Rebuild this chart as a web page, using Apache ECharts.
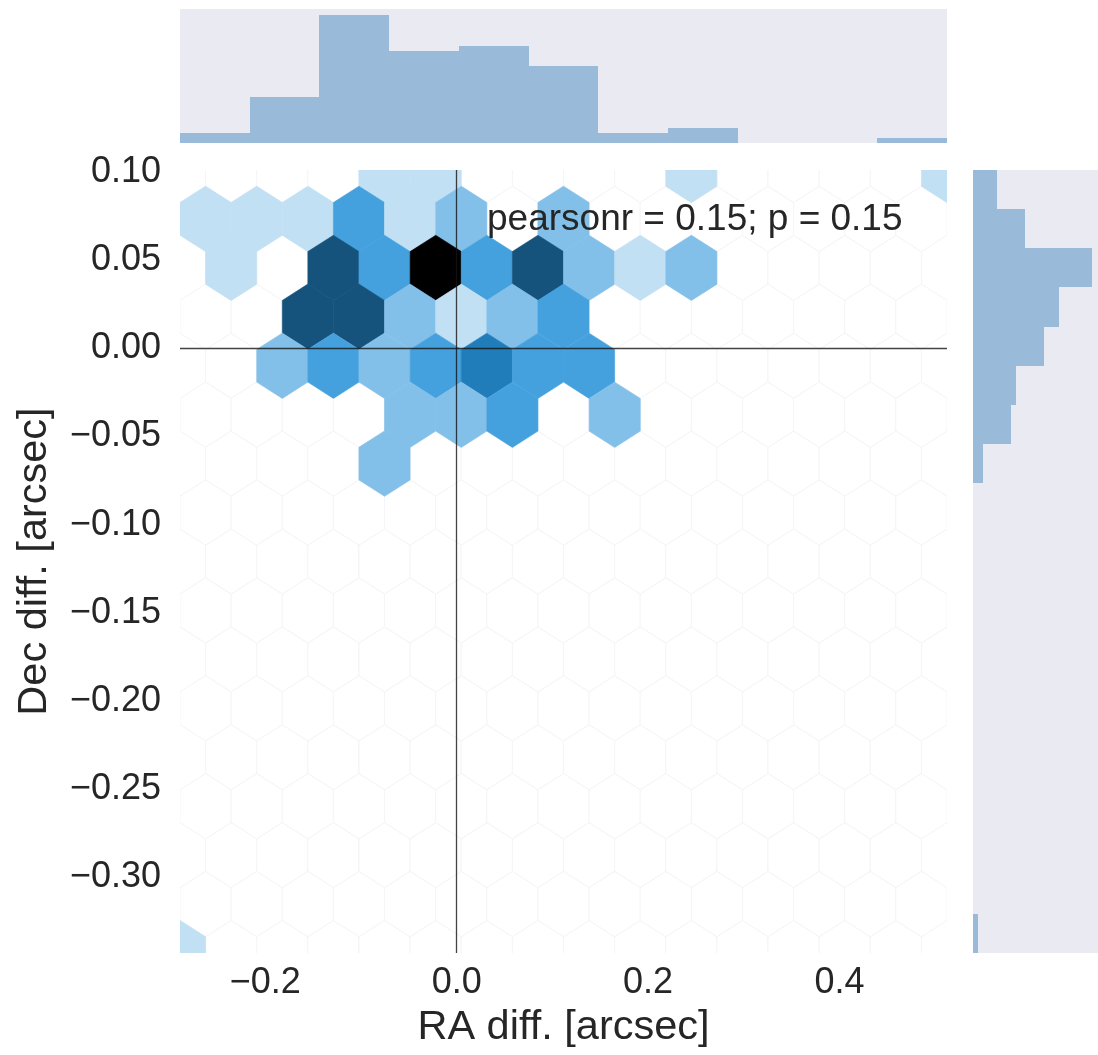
<!DOCTYPE html>
<html>
<head>
<meta charset="utf-8">
<script src="https://cdn.jsdelivr.net/npm/echarts@6/dist/echarts.min.js"></script>
<style>
  html, body { margin: 0; padding: 0; background: #ffffff; }
  #chart { width: 1098px; height: 1055px; }
</style>
</head>
<body>
<div id="chart"></div>
<script>
// Hexbin cells: bin centre (arcsec) and number of sources in the bin
const hexRA = [
  -0.0754, -0.0219, 0.2452, 0.5123,
  -0.2624, -0.2090, -0.1555, -0.1021, -0.0487, 0.0048, 0.1116,
  -0.2357, -0.1288, -0.0754, -0.0219, 0.0315, 0.0849, 0.1383, 0.1918, 0.2452,
  -0.1555, -0.1021, -0.0487, 0.0048, 0.0582, 0.1116,
  -0.1822, -0.1288, -0.0754, -0.0219, 0.0315, 0.0849, 0.1383,
  -0.0487, 0.0048, 0.0582, 0.1651,
  -0.0754,
  -0.2891
];
const hexDec = [
  0.1011, 0.1011, 0.1011, 0.1011,
  0.0734, 0.0734, 0.0734, 0.0734, 0.0734, 0.0734, 0.0734,
  0.0456, 0.0456, 0.0456, 0.0456, 0.0456, 0.0456, 0.0456, 0.0456, 0.0456,
  0.0179, 0.0179, 0.0179, 0.0179, 0.0179, 0.0179,
  -0.0099, -0.0099, -0.0099, -0.0099, -0.0099, -0.0099, -0.0099,
  -0.0377, -0.0377, -0.0377, -0.0377,
  -0.0654,
  -0.3429
];
const hexCount = [
  1, 1, 1, 1,
  1, 1, 1, 3, 1, 2, 2,
  1, 5, 3, 7, 3, 5, 2, 1, 2,
  5, 5, 2, 1, 2, 3,
  2, 3, 2, 3, 4, 3, 3,
  2, 2, 3, 2,
  2,
  1
];

// Marginal histograms
const raBinEdges = [-0.2891, -0.2162, -0.1434, -0.0705, 0.0023, 0.0752, 0.1480, 0.2209, 0.2938, 0.3666, 0.4395, 0.5123];
const raCounts = [2, 9, 25, 18, 19, 15, 2, 3, 0, 0, 1];
const decBinEdges = [-0.3429, -0.3207, -0.2985, -0.2763, -0.2541, -0.2319, -0.2097, -0.1875, -0.1653, -0.1431, -0.1209,
  -0.0987, -0.0765, -0.0543, -0.0321, -0.0099, 0.0123, 0.0345, 0.0567, 0.0789, 0.1011];
const decCounts = [1, 0, 0, 0, 0, 0, 0, 0, 0, 0, 0, 0, 2, 8, 9, 15, 18, 25, 11, 5];

// Axes
const raRange = [-0.2891, 0.5123];
const decRange = [-0.3429, 0.1011];
const raTicks = [-0.2, 0.0, 0.2, 0.4];
const decTicks = [0.10, 0.05, 0.00, -0.05, -0.10, -0.15, -0.20, -0.25, -0.30];
const refRA = 0;
const refDec = 0;
const gridSize = 15;
const statText = 'pearsonr = 0.15; p = 0.15';

const FONT = '"Liberation Sans", Arial, Helvetica, sans-serif';
const TEXT = '#262626';

// hexagon lattice spacing in data units (matplotlib-style hexbin grid)
const nx = gridSize;
const ny = Math.floor(gridSize / Math.sqrt(3));
const sx = (raRange[1] - raRange[0]) / nx;
const sy = (decRange[1] - decRange[0]) / ny;
const maxCount = Math.max(...hexCount);

function hexPoints(api, x, y) {
  const c = api.coord([x, y]);
  const s = api.size([sx, sy]);
  const w = s[0] / 2, h1 = s[1] / 6, h2 = s[1] / 3;
  return [
    [c[0] + w, c[1] - h1], [c[0] + w, c[1] + h1], [c[0], c[1] + h2],
    [c[0] - w, c[1] + h1], [c[0] - w, c[1] - h1], [c[0], c[1] - h2]
  ];
}

function hexColor(n) {
  const l = (1 - n / maxCount) * 100;
  return 'hsl(204, 70%, ' + l.toFixed(1) + '%)';
}

const minusFmt = (digits) => (v) => (v < -1e-9 ? '\u2212' : '') + Math.abs(v).toFixed(digits);

const hexData = hexRA.map((x, i) => [x, hexDec[i], hexCount[i]]);
const raHist = raCounts.map((c, i) => [raBinEdges[i], raBinEdges[i + 1], c]);
const decHist = decCounts.map((c, i) => [decBinEdges[i], decBinEdges[i + 1], c]);
const margMax = Math.max(...raCounts, ...decCounts) * 1.05;

const histColor = '#99bbd9';

// bar rectangle snapped to whole pixels so neighbouring bins join without seams
function snappedRect(p0, p1) {
  const x0 = Math.round(Math.min(p0[0], p1[0])), x1 = Math.round(Math.max(p0[0], p1[0]));
  const y0 = Math.round(Math.min(p0[1], p1[1])), y1 = Math.round(Math.max(p0[1], p1[1]));
  return { x: x0, y: y0, width: x1 - x0, height: y1 - y0 };
}

const chart = echarts.init(document.getElementById('chart'), null, { renderer: 'canvas' });

chart.setOption({
  animation: false,
  backgroundColor: '#ffffff',
  grid: [
    { left: 180, top: 170, width: 767, height: 783, show: false },
    { left: 180, top: 9, width: 767, height: 134, show: true, backgroundColor: '#eaeaf2', borderWidth: 0 },
    { left: 973, top: 170, width: 134, height: 783, show: true, backgroundColor: '#eaeaf2', borderWidth: 0 }
  ],
  xAxis: [
    {
      gridIndex: 0, type: 'value', min: raRange[0], max: raRange[1],
      axisLine: { show: false }, axisTick: { show: false }, splitLine: { show: false },
      axisLabel: {
        customValues: raTicks, formatter: minusFmt(1), fontSize: 36,
        fontFamily: FONT, color: TEXT, margin: 12
      },
      name: 'RA diff. [arcsec]', nameLocation: 'middle', nameGap: 54,
      nameTextStyle: { fontSize: 41.5, fontFamily: FONT, color: TEXT }
    },
    { gridIndex: 1, type: 'value', min: raRange[0], max: raRange[1], show: false },
    { gridIndex: 2, type: 'value', min: 0, max: margMax, show: false }
  ],
  yAxis: [
    {
      gridIndex: 0, type: 'value', min: decRange[0], max: decRange[1],
      axisLine: { show: false }, axisTick: { show: false }, splitLine: { show: false },
      axisLabel: {
        customValues: decTicks, formatter: minusFmt(2), fontSize: 36,
        fontFamily: FONT, color: TEXT, margin: 19
      },
      name: 'Dec diff. [arcsec]', nameLocation: 'middle', nameGap: 124, nameRotate: 90,
      nameTextStyle: { fontSize: 41.5, fontFamily: FONT, color: TEXT }
    },
    { gridIndex: 1, type: 'value', min: 0, max: margMax, show: false },
    { gridIndex: 2, type: 'value', min: decRange[0], max: decRange[1], show: false }
  ],
  series: [
    {
      // empty bins of the hexagon lattice
      type: 'custom', name: 'empty bins', xAxisIndex: 0, yAxisIndex: 0,
      clip: true, silent: true, z: 1,
      data: [[0]],
      renderItem: function (params, api) {
        const children = [];
        const style = { fill: '#ffffff', stroke: '#f5f5f8', lineWidth: 1 };
        for (let i = 0; i <= nx; i++) {
          for (let j = 0; j <= ny; j++) {
            children.push({ type: 'polygon', shape: { points: hexPoints(api, raRange[0] + i * sx, decRange[0] + j * sy) }, style });
          }
        }
        for (let i = 0; i < nx; i++) {
          for (let j = 0; j < ny; j++) {
            children.push({ type: 'polygon', shape: { points: hexPoints(api, raRange[0] + (i + 0.5) * sx, decRange[0] + (j + 0.5) * sy) }, style });
          }
        }
        return { type: 'group', children };
      }
    },
    {
      type: 'custom', name: 'hexbin', xAxisIndex: 0, yAxisIndex: 0,
      clip: true, silent: true, z: 2,
      data: hexData,
      renderItem: function (params, api) {
        const col = hexColor(api.value(2));
        return {
          type: 'polygon',
          shape: { points: hexPoints(api, api.value(0), api.value(1)) },
          style: { fill: col, stroke: col, lineWidth: 0.6 }
        };
      }
    },
    {
      type: 'line', name: 'zero lines', xAxisIndex: 0, yAxisIndex: 0, data: [], z: 5,
      markLine: {
        silent: true, symbol: ['none', 'none'], label: { show: false },
        lineStyle: { color: 'rgba(20,20,20,0.8)', width: 1.3, type: 'solid' },
        data: [{ xAxis: refRA }, { yAxis: refDec }]
      }
    },
    {
      type: 'custom', name: 'RA histogram', xAxisIndex: 1, yAxisIndex: 1, silent: true,
      data: raHist,
      renderItem: function (params, api) {
        if (api.value(2) <= 0) return null;
        const p0 = api.coord([api.value(0), 0]);
        const p1 = api.coord([api.value(1), api.value(2)]);
        return { type: 'rect', shape: snappedRect(p0, p1), style: { fill: histColor } };
      }
    },
    {
      type: 'custom', name: 'Dec histogram', xAxisIndex: 2, yAxisIndex: 2, silent: true,
      data: decHist,
      renderItem: function (params, api) {
        if (api.value(2) <= 0) return null;
        const p0 = api.coord([0, api.value(0)]);
        const p1 = api.coord([api.value(2), api.value(1)]);
        return { type: 'rect', shape: snappedRect(p0, p1), style: { fill: histColor } };
      }
    }
  ],
  graphic: [
    {
      type: 'text', left: 487, top: 201, z: 10, silent: true,
      style: { text: statText, font: '37px ' + FONT, fill: TEXT }
    }
  ]
});
</script>
</body>
</html>
